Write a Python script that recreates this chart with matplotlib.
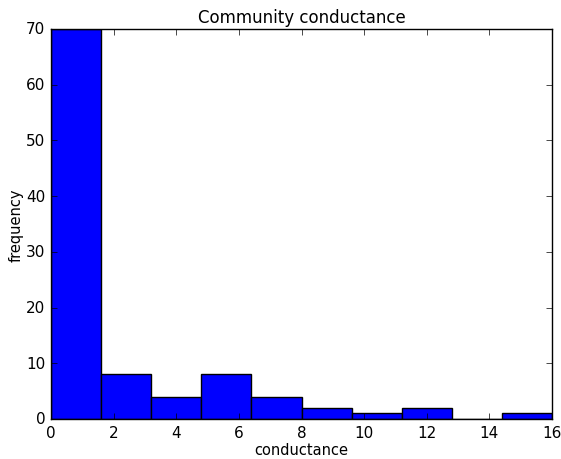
import matplotlib
matplotlib.use("Agg")
import matplotlib.pyplot as plt
import numpy as np

plt.style.use("classic")

bin_edges = [0.0, 1.6, 3.2, 4.8, 6.4, 8.0, 9.6, 11.2, 12.8, 14.4, 16.0]
counts = [70, 8, 4, 8, 4, 2, 1, 2, 0, 1]

fig = plt.figure(figsize=(5.61, 4.6), dpi=100, facecolor="white")
ax = fig.add_axes([51 / 561, 1 - 420 / 460, 501 / 561, 390 / 460])

edges = np.array(bin_edges)
ax.hist(edges[:-1], bins=edges, weights=counts, color="blue", edgecolor="black", linewidth=1)

ax.set_xlim(0, 16)
ax.set_ylim(0, 70)
ax.set_title("Community conductance", fontsize=12)
ax.set_xlabel("conductance", fontsize=10.5, labelpad=2)
ax.set_ylabel("frequency", fontsize=10.5, labelpad=2)
ax.tick_params(labelsize=11)

fig.savefig("out.png", dpi=100, facecolor="white")
